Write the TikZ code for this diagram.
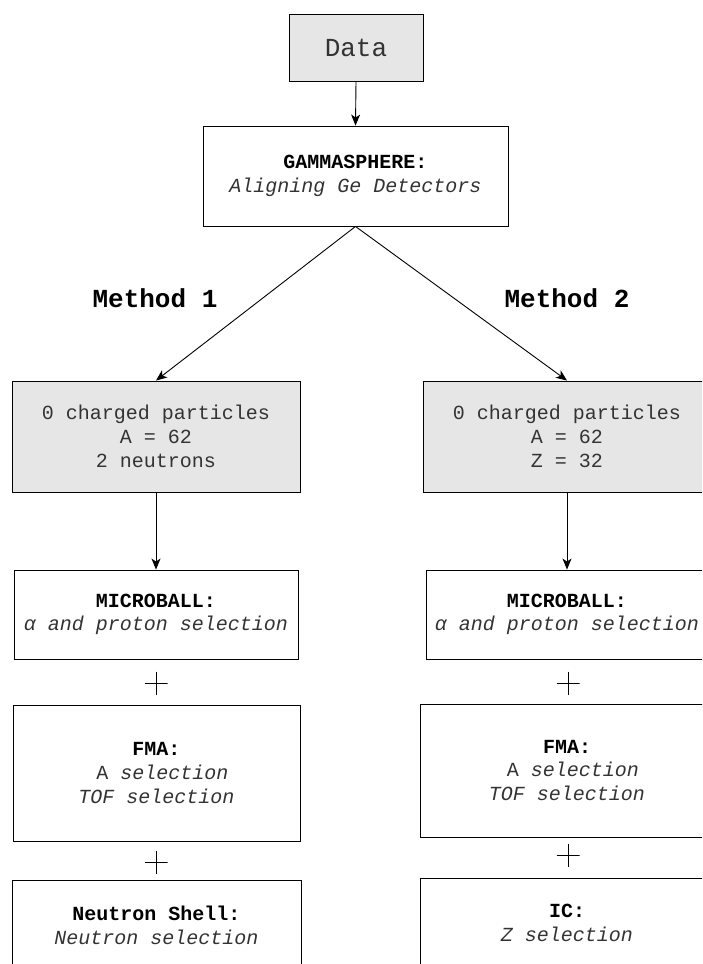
\documentclass[tikz,border=0pt]{standalone}
\usepackage{fontspec}
\setmainfont{Liberation Mono}
\usetikzlibrary{arrows.meta}
\definecolor{boxgray}{HTML}{E6E6E6}
\definecolor{txt}{HTML}{333333}
\tikzset{
  box/.style={draw=black, line width=0.9pt, rectangle, align=center, inner sep=0pt,
    font=\fontsize{20}{23.7}\selectfont, text=txt},
  graybox/.style={box, fill=boxgray},
  conn/.style={draw=black, line width=0.9pt, -{Stealth[length=11pt,width=9pt,inset=3pt]}},
  methodlbl/.style={font=\fontsize{26}{30}\selectfont\bfseries, text=black},
  plussign/.style={minimum width=23pt, minimum height=23pt, inner sep=0pt,
    path picture={\draw[line width=0.9pt] (path picture bounding box.north) -- (path picture bounding box.south)
      (path picture bounding box.west) -- (path picture bounding box.east);}},
}
\newcommand{\hd}[1]{{\bfseries\color{black}#1}}
\begin{document}
\begin{tikzpicture}[x=1pt,y=-1pt]
\path[use as bounding box, clip] (0,0) rectangle (702,964);
\fill[white] (0,0) rectangle (702,964);

\node[graybox, minimum width=134pt, minimum height=67pt, font=\fontsize{26}{30}\selectfont] (data) at (356,47.5) {Data};
\node[box, minimum width=305pt, minimum height=100pt] (gamma) at (355.5,176) {\hd{GAMMASPHERE:}\\ \textit{Aligning Ge Detectors}};

\node[methodlbl] (meth1) at (155,298) {Method 1};
\node[methodlbl] (meth2) at (567,298) {Method 2};

\node[graybox, minimum width=288pt, minimum height=111pt] (g1) at (156,436.5) {0 charged particles\\ A = 62\\ 2 neutrons};
\node[graybox, minimum width=288pt, minimum height=111pt] (g2) at (567,436.5) {0 charged particles\\ A = 62\\ Z = 32};

\node[box, minimum width=284pt, minimum height=89pt] (m1) at (156,614.5) {\hd{MICROBALL:}\\ \textit{α and proton selection}};
\node[box, minimum width=282pt, minimum height=89pt] (m2) at (567,614.5) {\hd{MICROBALL:}\\ \textit{α and proton selection}};

\node[plussign] (p1) at (156,683) {};
\node[plussign] (p2) at (568,683) {};

\node[box, minimum width=287pt, minimum height=136pt] (f1) at (156.5,773) {\hd{FMA:}\\ \hphantom{A}A \textit{selection}\\ \textit{TOF selection}};
\node[box, minimum width=294pt, minimum height=133pt] (f2) at (567,770.5) {\hd{FMA:}\\ \hphantom{A}A \textit{selection}\\ \textit{TOF selection}};

\node[plussign] (p3) at (156,862) {};
\node[plussign] (p4) at (568,855) {};

\node[box, minimum width=289pt, minimum height=90pt] (n1) at (156.5,925) {\hd{Neutron Shell:}\\ \textit{Neutron selection}};
\node[box, minimum width=294pt, minimum height=90pt] (i2) at (567,923) {\hd{IC:}\\ \textit{Z selection}};

\draw[conn] (data.south) -- (gamma.north);
\draw[conn] (gamma.south) -- (g1.north);
\draw[conn] (gamma.south) -- (g2.north);
\draw[conn] (g1.south) -- (m1.north);
\draw[conn] (g2.south) -- (m2.north);
\end{tikzpicture}
\end{document}
